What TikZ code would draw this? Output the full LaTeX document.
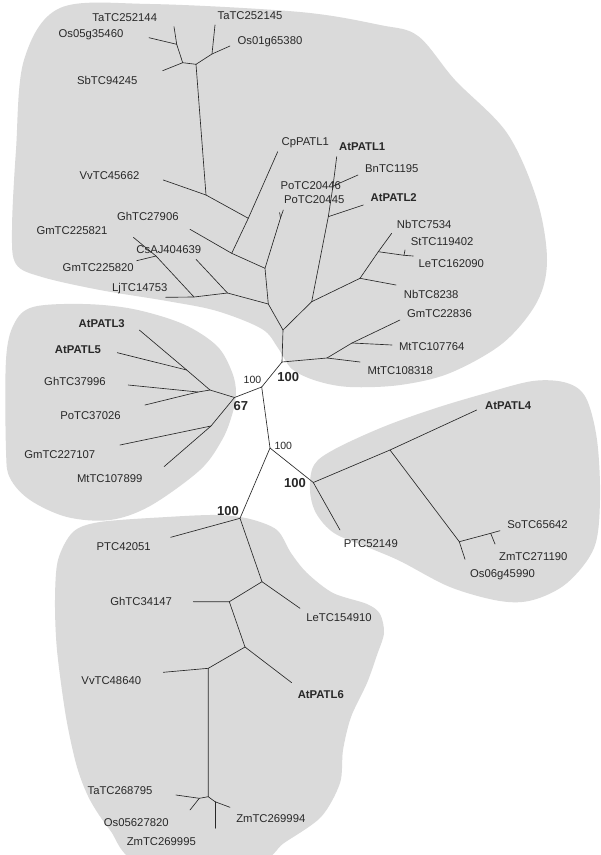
\documentclass[tikz,border=0pt]{standalone}
\usepackage{fontspec}
\newfontfamily\lblfam{Liberation Sans}
\newcommand\lblfont{\lblfam\fontsize{11.3}{13}\selectfont}
\newcommand\bootsmall{\lblfam\fontsize{10.5}{12}\selectfont}
\newcommand\bootbig{\lblfam\bfseries\fontsize{13}{15}\selectfont}
\definecolor{blobgray}{RGB}{218,218,218}
\definecolor{ink}{RGB}{40,40,40}
\tikzset{
  blob/.style={fill=blobgray, draw=none},
  br/.style={draw=ink, line width=0.65pt, line cap=round, line join=round},
  lab/.style={font=\lblfont, text=ink, inner sep=0pt, text height=8pt, text depth=0pt, anchor=center},
  blab/.style={lab, font=\lblfont\bfseries},
  bsm/.style={font=\bootsmall, text=ink, inner sep=0pt, text height=7.5pt, text depth=0pt},
  bbig/.style={font=\bootbig, text=ink, inner sep=0pt, text height=9.3pt, text depth=0pt}
}
\begin{document}
\begin{tikzpicture}[x=1pt,y=-1pt]
\useasboundingbox (0,0) rectangle (601,855);
\clip (0,0) rectangle (601,855);
\fill[white] (0,0) rectangle (601,855);
% ---------- blobs ----------
\fill[blob] plot[smooth cycle, tension=0.55] coordinates {
 (16,150) (24,60) (60,8) (150,4) (300,12) (380,25) (418,36) (455,80)
 (507,133) (537,200) (547,260) (537,302) (503,343) (450,373) (400,385)
 (350,387) (317,381) (292,369) (278,348) (262,329) (217,311) (167,301)
 (100,290) (42,277) (16,264) (12,230)};
\fill[blob] plot[smooth cycle, tension=0.55] coordinates {
 (33,307) (83,304) (133,309) (183,324) (217,346) (232,372) (236,393)
 (232,415) (222,440) (200,470) (150,506) (110,520) (67,517) (30,500)
 (10,478) (6,450) (6,360) (14,324)};
\fill[blob] plot[smooth cycle, tension=0.55] coordinates {
 (314,465) (335,449) (383,427) (433,409) (483,394) (533,381) (567,383)
 (586,398) (597,440) (600,500) (594,548) (567,583) (533,600) (500,601)
 (450,587) (400,561) (367,547) (334,533) (316,513) (310,490)};
\fill[blob] plot[smooth cycle, tension=0.5] coordinates {
 (73,532) (100,522) (167,517) (217,515) (250,519) (277,530) (291,553)
 (307,573) (333,593) (367,604) (380,614) (384,633) (377,655) (367,683)
 (351,717) (343,750) (340,783) (321,817) (284,843) (255,862) (140,862)
 (110,830) (90,800) (77,767) (66,717) (57,650) (55,600) (58,560)};
% ---------- coordinates: upper clade ----------
\coordinate (R1) at (282,362);
\coordinate (N) at (283,330);
\coordinate (m1) at (327,358);
\coordinate (m2) at (352,343);
\coordinate (tMt108318) at (360,362);
\coordinate (tGm22836) at (400,320);
\coordinate (tMt107764) at (392,345);
\coordinate (O) at (311.7,301.7);
\coordinate (oBn) at (333,186);
\coordinate (oP2) at (328.3,216.7);
\coordinate (tP1) at (336.7,156.7);
\coordinate (tBn) at (358,175);
\coordinate (tP2) at (363.3,205);
\coordinate (nb) at (360,278.3);
\coordinate (tNb8238) at (396,285);
\coordinate (H) at (378.3,251.7);
\coordinate (tNb7534) at (391.7,233.3);
\coordinate (sl) at (404,255.3);
\coordinate (tLe) at (413.3,256);
\coordinate (tSt) at (405,250);
\coordinate (J) at (268.3,304);
\coordinate (I) at (265,268.3);
\coordinate (po) at (280.5,218);
\coordinate (tPo45) at (283.3,210);
\coordinate (tPo46) at (279.6,212.5);
\coordinate (G) at (231.7,253.3);
\coordinate (tGh27906) at (190,229.3);
\coordinate (F) at (248.3,218.3);
\coordinate (tCp) at (277.7,151.7);
\coordinate (E) at (206,195);
\coordinate (tVv45662) at (163.3,180);
\coordinate (A) at (196,64.3);
\coordinate (B) at (212,54);
\coordinate (tTa145) at (215,25);
\coordinate (tOs01) at (230,46);
\coordinate (C) at (182.7,62.7);
\coordinate (tSb) at (162.7,70.7);
\coordinate (D) at (176.7,44.3);
\coordinate (tTa144) at (174,26.7);
\coordinate (tOs05) at (149,37.7);
\coordinate (M) at (227.5,293);
\coordinate (tCs) at (196,259.3);
\coordinate (L) at (194,297);
\coordinate (tLj) at (165.7,297.3);
\coordinate (K) at (156,256);
\coordinate (tGm821) at (133.3,237.3);
\coordinate (tGm820) at (136.7,260.7);
% ---------- middle ----------
\coordinate (V) at (261.7,387);
\coordinate (T) at (234.5,397.5);
\coordinate (P) at (210,390);
\coordinate (Q) at (186.7,370);
\coordinate (tP3) at (139.3,330);
\coordinate (tP5) at (117.3,352.7);
\coordinate (S) at (198,392);
\coordinate (tGh37996) at (128.3,385);
\coordinate (tPo37026) at (145,405);
\coordinate (U) at (211,426);
\coordinate (tGm107) at (120,445);
\coordinate (tMt899) at (164,466.7);
\coordinate (W) at (270,448);
% ---------- right clade ----------
\coordinate (X) at (313.3,482.5);
\coordinate (x1) at (390,450);
\coordinate (tP4) at (476.7,410);
\coordinate (tPTC52149) at (340,530);
\coordinate (x2) at (459.3,541.7);
\coordinate (tOs06) at (465,559.3);
\coordinate (x3) at (490.7,533.3);
\coordinate (tSo) at (500,530.7);
\coordinate (tZm190) at (495,544);
% ---------- bottom clade ----------
\coordinate (Y) at (240,518.3);
\coordinate (tPTC42051) at (170.7,537.3);
\coordinate (Z) at (262,581.7);
\coordinate (tLe154) at (300,608.3);
\coordinate (AA) at (229.3,601.7);
\coordinate (tGh34147) at (193.3,601.7);
\coordinate (BB) at (245,647);
\coordinate (tP6) at (291.7,682.7);
\coordinate (CC) at (208.3,668.3);
\coordinate (tVv48640) at (163.3,672.3);
\coordinate (DD) at (208.3,796.7);
\coordinate (EE) at (199.3,798.3);
\coordinate (tTa795) at (176,795);
\coordinate (tOs056) at (190,810);
\coordinate (FF) at (215,801.7);
\coordinate (tZm994) at (230,807.3);
\coordinate (tZm995) at (215,828.3);
% ---------- branches ----------
\draw[br] (R1) -- (N);
\draw[br] (R1) -- (m1) -- (tMt108318);
\draw[br] (m1) -- (m2) -- (tGm22836);
\draw[br] (m2) -- (tMt107764);
\draw[br] (N) -- (O) -- (oP2) -- (oBn) -- (tP1);
\draw[br] (oP2) -- (tP2);
\draw[br] (oBn) -- (tBn);
\draw[br] (O) -- (nb) -- (tNb8238);
\draw[br] (nb) -- (H) -- (tNb7534);
\draw[br] (H) -- (sl) -- (tLe);
\draw[br] (sl) -- (tSt);
\draw[br] (N) -- (J) -- (I) -- (po) -- (tPo45);
\draw[br] (po) -- (tPo46);
\draw[br] (I) -- (G) -- (tGh27906);
\draw[br] (G) -- (F) -- (tCp);
\draw[br] (F) -- (E) -- (tVv45662);
\draw[br] (E) -- (A);
\draw[br] (A) -- (B) -- (tTa145);
\draw[br] (B) -- (tOs01);
\draw[br] (A) -- (C) -- (tSb);
\draw[br] (C) -- (D) -- (tTa144);
\draw[br] (D) -- (tOs05);
\draw[br] (J) -- (M) -- (tCs);
\draw[br] (M) -- (L) -- (tLj);
\draw[br] (L) -- (K) -- (tGm821);
\draw[br] (K) -- (tGm820);
\draw[br] (V) -- (R1);
\draw[br] (V) -- (T);
\draw[br] (T) -- (P) -- (Q) -- (tP3);
\draw[br] (Q) -- (tP5);
\draw[br] (P) -- (S) -- (tGh37996);
\draw[br] (S) -- (tPo37026);
\draw[br] (T) -- (U) -- (tGm107);
\draw[br] (U) -- (tMt899);
\draw[br] (V) -- (W);
\draw[br] (W) -- (X) -- (x1) -- (tP4);
\draw[br] (X) -- (tPTC52149);
\draw[br] (x1) -- (x2) -- (tOs06);
\draw[br] (x2) -- (x3) -- (tSo);
\draw[br] (x3) -- (tZm190);
\draw[br] (W) -- (Y) -- (tPTC42051);
\draw[br] (Y) -- (Z) -- (tLe154);
\draw[br] (Z) -- (AA) -- (tGh34147);
\draw[br] (AA) -- (BB) -- (tP6);
\draw[br] (BB) -- (CC) -- (tVv48640);
\draw[br] (CC) -- (DD) -- (EE) -- (tTa795);
\draw[br] (EE) -- (tOs056);
\draw[br] (DD) -- (FF) -- (tZm994);
\draw[br] (FF) -- (tZm995);
% ---------- labels ----------
\node[lab] (lTa144) at (124.7,17.3) {TaTC252144};
\node[lab] (lOs05) at (91,33.5) {Os05g35460};
\node[lab] (lTa145) at (250,15.7) {TaTC252145};
\node[lab] (lOs01) at (270,40.7) {Os01g65380};
\node[lab] (lSb) at (107.3,80) {SbTC94245};
\node[lab] (lVv45662) at (109.5,175) {VvTC45662};
\node[lab] (lCp) at (305.3,141.7) {CpPATL1};
\node[blab] (lP1) at (362.2,146.7) {AtPATL1};
\node[lab] (lBn) at (391.8,168.3) {BnTC1195};
\node[lab] (lPo46) at (310.8,185) {PoTC20446};
\node[lab] (lPo45) at (314.2,199) {PoTC20445};
\node[blab] (lP2) at (393.7,197.7) {AtPATL2};
\node[lab] (lNb7534) at (424.2,224) {NbTC7534};
\node[lab] (lSt) at (442.2,241.7) {StTC119402};
\node[lab] (lLe162) at (451.3,263.3) {LeTC162090};
\node[lab] (lNb8238) at (431.2,294.3) {NbTC8238};
\node[lab] (lGm22836) at (439.5,313.3) {GmTC22836};
\node[lab] (lMt764) at (431.7,346.7) {MtTC107764};
\node[lab] (lMt318) at (400.3,370) {MtTC108318};
\node[lab] (lGh27906) at (147.8,216.7) {GhTC27906};
\node[lab] (lGm821) at (72,230.7) {GmTC225821};
\node[lab] (lCs) at (168.8,249.3) {CsAJ404639};
\node[lab] (lGm820) at (98.2,267.3) {GmTC225820};
\node[lab] (lLj) at (139.8,287.7) {LjTC14753};
\node[blab] (lP3) at (101.7,323) {AtPATL3};
\node[blab] (lP5) at (78,349.5) {AtPATL5};
\node[lab] (lGh37996) at (75,381) {GhTC37996};
\node[lab] (lPo37026) at (90.5,415) {PoTC37026};
\node[lab] (lGm107) at (59.8,454.3) {GmTC227107};
\node[lab] (lMt899) at (109.7,478.3) {MtTC107899};
\node[blab] (lP4) at (508.2,405) {AtPATL4};
\node[lab] (lPTC52149) at (370.8,543.3) {PTC52149};
\node[lab] (lSo) at (537.5,524.3) {SoTC65642};
\node[lab] (lZm190) at (533.3,556) {ZmTC271190};
\node[lab] (lOs06) at (502.5,573.3) {Os06g45990};
\node[lab] (lPTC42051) at (123.7,546.7) {PTC42051};
\node[lab] (lGh34147) at (141.2,601.7) {GhTC34147};
\node[lab] (lLe154) at (339,617.3) {LeTC154910};
\node[lab] (lVv48640) at (111.3,680) {VvTC48640};
\node[blab] (lP6) at (320.8,694.3) {AtPATL6};
\node[lab] (lTa795) at (120,790) {TaTC268795};
\node[lab] (lOs056) at (136.3,822.7) {Os05627820};
\node[lab] (lZm995) at (161.3,841.7) {ZmTC269995};
\node[lab] (lZm994) at (270.8,818.3) {ZmTC269994};
% bootstrap values
\node[bbig] (b1) at (288.3,376.5) {100};
\node[bsm] (b2) at (252.5,380) {100};
\node[bbig] (b3) at (240.8,406) {67};
\node[bsm] (b4) at (283.3,446) {100};
\node[bbig] (b5) at (295,483.3) {100};
\node[bbig] (b6) at (228,510.5) {100};
\end{tikzpicture}
\end{document}
